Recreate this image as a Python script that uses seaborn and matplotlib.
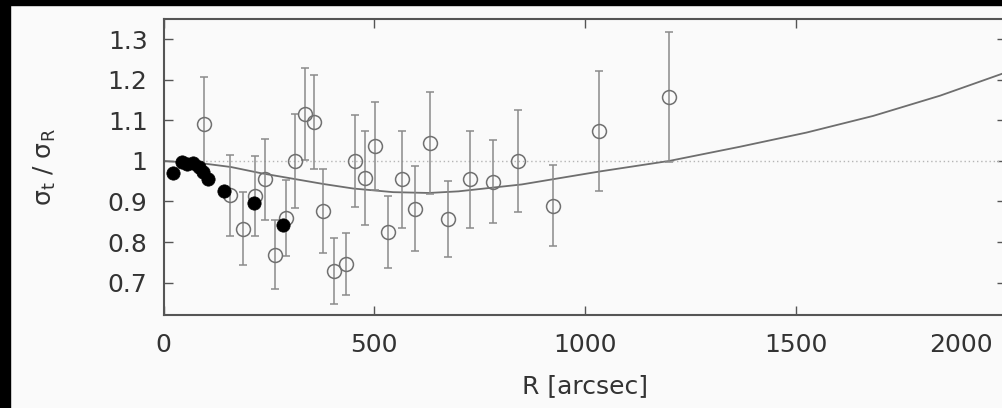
import matplotlib
matplotlib.use("Agg")
import matplotlib.pyplot as plt
import matplotlib.transforms as mtransforms
from matplotlib.patches import Rectangle
import seaborn as sns

# Inner profile (filled symbols)
r_inner = [23, 45, 56, 71, 83, 94, 106, 144, 215, 284]
ratio_inner = [0.970, 0.998, 0.993, 0.994, 0.985, 0.972, 0.956, 0.927, 0.896, 0.843]

# Outer binned measurements with 1-sigma errors (open symbols)
r_outer = [97, 158, 189, 217, 241, 265, 290, 312, 336, 358, 379, 405, 432,
           454, 477, 502, 533, 565, 597, 632, 674, 727, 781, 842, 925, 1033, 1200]
ratio_outer = [1.091, 0.915, 0.833, 0.914, 0.955, 0.769, 0.859, 1.000, 1.115,
               1.097, 0.877, 0.728, 0.746, 1.000, 0.957, 1.037, 0.825, 0.955,
               0.882, 1.045, 0.857, 0.955, 0.949, 1.000, 0.889, 1.075, 1.157]
err_outer = [0.115, 0.100, 0.090, 0.098, 0.100, 0.085, 0.093, 0.115, 0.113,
             0.116, 0.104, 0.082, 0.077, 0.113, 0.116, 0.108, 0.088, 0.120,
             0.105, 0.126, 0.093, 0.120, 0.102, 0.126, 0.100, 0.148, 0.160]

# Model anisotropy curve
r_model = [0, 100, 160, 230, 380, 450, 545, 630, 700, 850, 925, 1035,
           1200, 1368, 1526, 1684, 1843, 1990, 2000]
ratio_model = [1.000, 0.993, 0.985, 0.970, 0.943, 0.932, 0.923, 0.921, 0.925,
               0.942, 0.955, 0.974, 1.000, 1.035, 1.070, 1.111, 1.161, 1.215,
               1.219]

x_ticks = [0, 500, 1000, 1500, 2000]
y_ticks = [0.7, 0.8, 0.9, 1.0, 1.1, 1.2, 1.3]
y_tick_labels = ["0.7", "0.8", "0.9", "1", "1.1", "1.2", "1.3"]

sns.set_theme(style="ticks")
plt.rcParams["font.family"] = ["DejaVu Sans"]
plt.rcParams["mathtext.fontset"] = "dejavusans"

bg = "#fafafa"
fig = plt.figure(figsize=(10.02, 4.08), dpi=100, facecolor=bg)
ax = fig.add_axes([0.1632, 0.2279, 0.8411, 0.7255])
ax.set_facecolor(bg)

# Reference level
ax.axhline(1.0, color="#b5b5b5", lw=1.0, ls=(0, (1, 2)), zorder=1)

# Model
sns.lineplot(x=r_model, y=ratio_model, color="#6e6e6e", lw=1.3, ax=ax, zorder=2)

# Outer measurements
ax.errorbar(r_outer, ratio_outer, yerr=err_outer, fmt="o", ms=10,
            mfc="none", mec="#707070", mew=1.1, ecolor="#8a8a8a",
            elinewidth=1.1, capsize=3.2, capthick=1.1, zorder=3)

# Inner profile
sns.scatterplot(x=r_inner, y=ratio_inner, color="black", edgecolor="black",
                s=92, linewidth=0.5, ax=ax, zorder=5, legend=False)

ax.set_xlim(0, 2000)
ax.set_ylim(0.62, 1.35)
ax.set_xticks(x_ticks)
ax.set_yticks(y_ticks)
ax.set_yticklabels(y_tick_labels)

for s in ax.spines.values():
    s.set_color("#555555")
    s.set_linewidth(1.5)

ax.tick_params(direction="in", length=6.5, width=1.0, top=True, right=True,
               color="#555555", labelcolor="#333333", labelsize=18)
ax.tick_params(axis="x", pad=13)
ax.tick_params(axis="y", pad=11.5)

# Last x tick label sits inside the frame
lab = ax.get_xticklabels()[-1]
lab.set_transform(lab.get_transform() +
                  mtransforms.ScaledTranslation(-0.45, 0, fig.dpi_scale_trans))

ax.set_xlabel("R [arcsec]", fontsize=18, color="#333333", labelpad=12.5)
ax.set_ylabel(r"σ$_\mathrm{t}$ / σ$_\mathrm{R}$", fontsize=18, color="#333333")
ax.yaxis.set_label_coords(-0.125, 0.5)

# Dark frame strips on the left and top edges
fig.patches.append(Rectangle((0, 0), 10 / 1002, 1, transform=fig.transFigure,
                             color="black", zorder=10))
fig.patches.append(Rectangle((0, 1 - 5 / 408), 1, 5 / 408, transform=fig.transFigure,
                             color="black", zorder=10))

fig.savefig("out.png", dpi=100, facecolor=bg)
